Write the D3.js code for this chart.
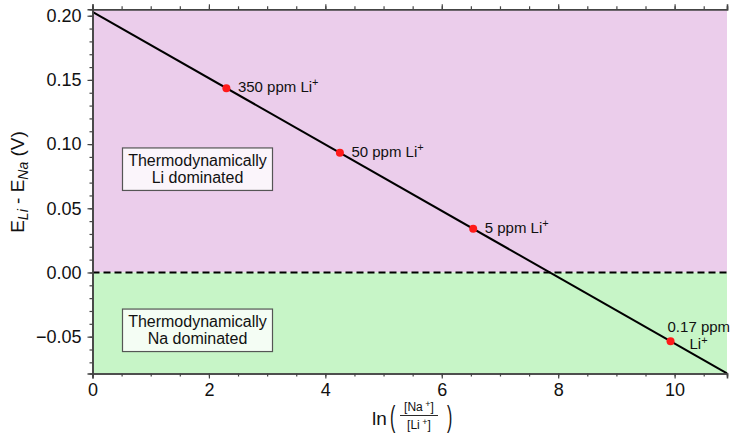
<!DOCTYPE html>
<html>
<head>
<meta charset="utf-8">
<script src="https://cdn.jsdelivr.net/npm/d3@7"></script>
<style>
  html, body { margin: 0; padding: 0; background: #fff; }
  svg { display: block; font-family: 'Liberation Sans', Arial, sans-serif; }
</style>
</head>
<body>
<div id="chart"></div>
<script>
// data
const lineX = [0, 10.9]
const lineY = [0.203, -0.0786]
const pointX = [2.3, 4.25, 6.54, 9.93]
const pointY = [0.1435, 0.0933, 0.034, -0.0535]
const pointLabels = ['350 ppm Li', '50 ppm Li', '5 ppm Li', '0.17 ppm']
const xTicks = [0, 2, 4, 6, 8, 10]
const yTicks = [-0.05, 0, 0.05, 0.1, 0.15, 0.2]
const regionLabels = [['Thermodynamically', 'Li dominated'], ['Thermodynamically', 'Na dominated']]

const width = 730
const height = 437
const margin = { top: 9.3, right: 3, bottom: 63.5, left: 92.5 }

const svg = d3.select('#chart')
  .append('svg')
  .attr('width', width)
  .attr('height', height)

const x = d3.scaleLinear()
  .domain([0, 10.9])
  .range([margin.left, width - margin.right])

const y = d3.scaleLinear()
  .domain([-0.0787, 0.205])
  .range([height - margin.bottom, margin.top])

const [x0, x1] = x.range()
const [yb, yt] = y.range()

// background regions
svg.append('rect')
  .attr('x', x0).attr('y', yt)
  .attr('width', x1 - x0).attr('height', y(0) - yt)
  .attr('fill', '#ebcdeb')
svg.append('rect')
  .attr('x', x0).attr('y', y(0))
  .attr('width', x1 - x0).attr('height', yb - y(0))
  .attr('fill', '#c7f5c7')

// region label boxes
const boxY = [0.097, -0.0285]
regionLabels.forEach((lines, i) => {
  const top = y(boxY[i])
  const g = svg.append('g')
  g.append('rect')
    .attr('x', 122.5).attr('y', top)
    .attr('width', 150).attr('height', 42.5)
    .attr('fill', '#ffffff').attr('fill-opacity', 0.8)
    .attr('stroke', '#555').attr('stroke-width', 1.2)
  lines.forEach((t, j) => {
    g.append('text')
      .attr('x', 197.5)
      .attr('y', top + 18 + j * 16.8)
      .attr('text-anchor', 'middle')
      .attr('font-size', '16px')
      .attr('fill', '#111')
      .text(t)
  })
})

// dashed zero line
svg.append('line')
  .attr('x1', x0).attr('x2', x1)
  .attr('y1', y(0)).attr('y2', y(0))
  .attr('stroke', '#000')
  .attr('stroke-width', 2)
  .attr('stroke-dasharray', '7,4')

// main line
const lineData = lineX.map((d, i) => [d, lineY[i]])
svg.append('path')
  .datum(lineData)
  .attr('fill', 'none')
  .attr('stroke', '#000')
  .attr('stroke-width', 2)
  .attr('d', d3.line().x(d => x(d[0])).y(d => y(d[1])))

// points
const pts = pointX.map((d, i) => ({ x: d, y: pointY[i], label: pointLabels[i] }))
svg.selectAll('.pt')
  .data(pts)
  .enter()
  .append('circle')
  .attr('class', 'pt')
  .attr('cx', d => x(d.x))
  .attr('cy', d => y(d.y))
  .attr('r', 4)
  .attr('fill', '#ff1a1a')

// point labels
pts.forEach((d, i) => {
  if (i < 3) {
    const t = svg.append('text')
      .attr('x', x(d.x) + 11.5)
      .attr('y', y(d.y) + 4)
      .attr('font-size', '15px')
      .attr('fill', '#111')
    t.append('tspan').text(d.label)
    t.append('tspan').attr('font-size', '11px').attr('dy', -6).text('+')
  } else {
    svg.append('text')
      .attr('x', x(d.x) - 3)
      .attr('y', y(d.y) - 9.5)
      .attr('font-size', '15px')
      .attr('fill', '#111')
      .text(d.label)
    const t = svg.append('text')
      .attr('x', x(d.x) + 19)
      .attr('y', y(d.y) + 8)
      .attr('font-size', '15px')
      .attr('fill', '#111')
    t.append('tspan').text('Li')
    t.append('tspan').attr('font-size', '11px').attr('dy', -5).text('+')
  }
})

// axes
const axisColor = '#444'
const xMinor = d3.range(0, 10.9, 0.5)
const yMinor = d3.range(-0.07, 0.2051, 0.01)

function styleAxis(g) {
  g.select('.domain').attr('stroke', axisColor).attr('stroke-width', 1.6)
  g.selectAll('.tick line').attr('stroke', axisColor).attr('stroke-width', 1.2)
  g.selectAll('.tick text').attr('font-size', '18px').attr('fill', '#111')
    .attr('font-family', "'Liberation Sans', Arial, sans-serif")
}

// minor ticks
svg.append('g')
  .attr('transform', `translate(0, ${yb})`)
  .call(d3.axisBottom(x).tickValues(xMinor).tickSize(3).tickFormat(''))
  .call(styleAxis)
svg.append('g')
  .attr('transform', `translate(0, ${yt})`)
  .call(d3.axisTop(x).tickValues(xMinor).tickSize(3).tickFormat(''))
  .call(styleAxis)
svg.append('g')
  .attr('transform', `translate(${x0}, 0)`)
  .call(d3.axisLeft(y).tickValues(yMinor).tickSize(3).tickFormat(''))
  .call(styleAxis)

// major ticks
svg.append('g')
  .attr('transform', `translate(0, ${yb})`)
  .call(d3.axisBottom(x).tickValues(xTicks).tickSize(5).tickPadding(5).tickFormat(d3.format('d')))
  .call(styleAxis)
svg.append('g')
  .attr('transform', `translate(0, ${yt})`)
  .call(d3.axisTop(x).tickValues(xTicks).tickSize(5).tickFormat(''))
  .call(styleAxis)
svg.append('g')
  .attr('transform', `translate(${x0}, 0)`)
  .call(d3.axisLeft(y).tickValues(yTicks).tickSize(5).tickPadding(6)
    .tickFormat(d => d3.format('.2f')(d).replace('-', '\u2212')))
  .call(styleAxis)

// y axis label
const yl = svg.append('text')
  .attr('transform', 'translate(24, 182) rotate(-90)')
  .attr('text-anchor', 'middle')
  .attr('font-size', '19px')
  .attr('fill', '#111')
yl.append('tspan').text('E')
yl.append('tspan').attr('font-size', '14px').attr('font-style', 'italic').attr('dy', 4).text('Li')
yl.append('tspan').attr('dy', -4).text(' - E')
yl.append('tspan').attr('font-size', '14px').attr('font-style', 'italic').attr('dy', 4).text('Na')
yl.append('tspan').attr('dy', -4).text(' (V)')

// x axis label: ln([Na+]/[Li+])
const xl = svg.append('g').attr('transform', 'translate(372, 0)')
xl.append('text')
  .attr('x', 0).attr('y', 425)
  .attr('font-size', '19px').attr('fill', '#111')
  .text('ln')
xl.append('text')
  .attr('x', 0).attr('y', 0)
  .attr('transform', 'translate(18, 427) scale(1, 1.8)')
  .attr('font-size', '16px').attr('fill', '#111')
  .text('(')
xl.append('text')
  .attr('x', 0).attr('y', 0)
  .attr('transform', 'translate(75, 427) scale(1, 1.8)')
  .attr('font-size', '16px').attr('fill', '#111')
  .text(')')
const num = xl.append('text')
  .attr('x', 47).attr('y', 411)
  .attr('text-anchor', 'middle')
  .attr('font-size', '12px').attr('fill', '#111')
num.append('tspan').text('[Na')
num.append('tspan').attr('font-size', '9px').attr('dy', -4).text(' +')
num.append('tspan').attr('dy', 4).text(']')
xl.append('line')
  .attr('x1', 28).attr('x2', 66)
  .attr('y1', 415.5).attr('y2', 415.5)
  .attr('stroke', '#111').attr('stroke-width', 0.9)
const den = xl.append('text')
  .attr('x', 47).attr('y', 429)
  .attr('text-anchor', 'middle')
  .attr('font-size', '12px').attr('fill', '#111')
den.append('tspan').text('[Li')
den.append('tspan').attr('font-size', '9px').attr('dy', -4).text(' +')
den.append('tspan').attr('dy', 4).text(']')
</script>
</body>
</html>
